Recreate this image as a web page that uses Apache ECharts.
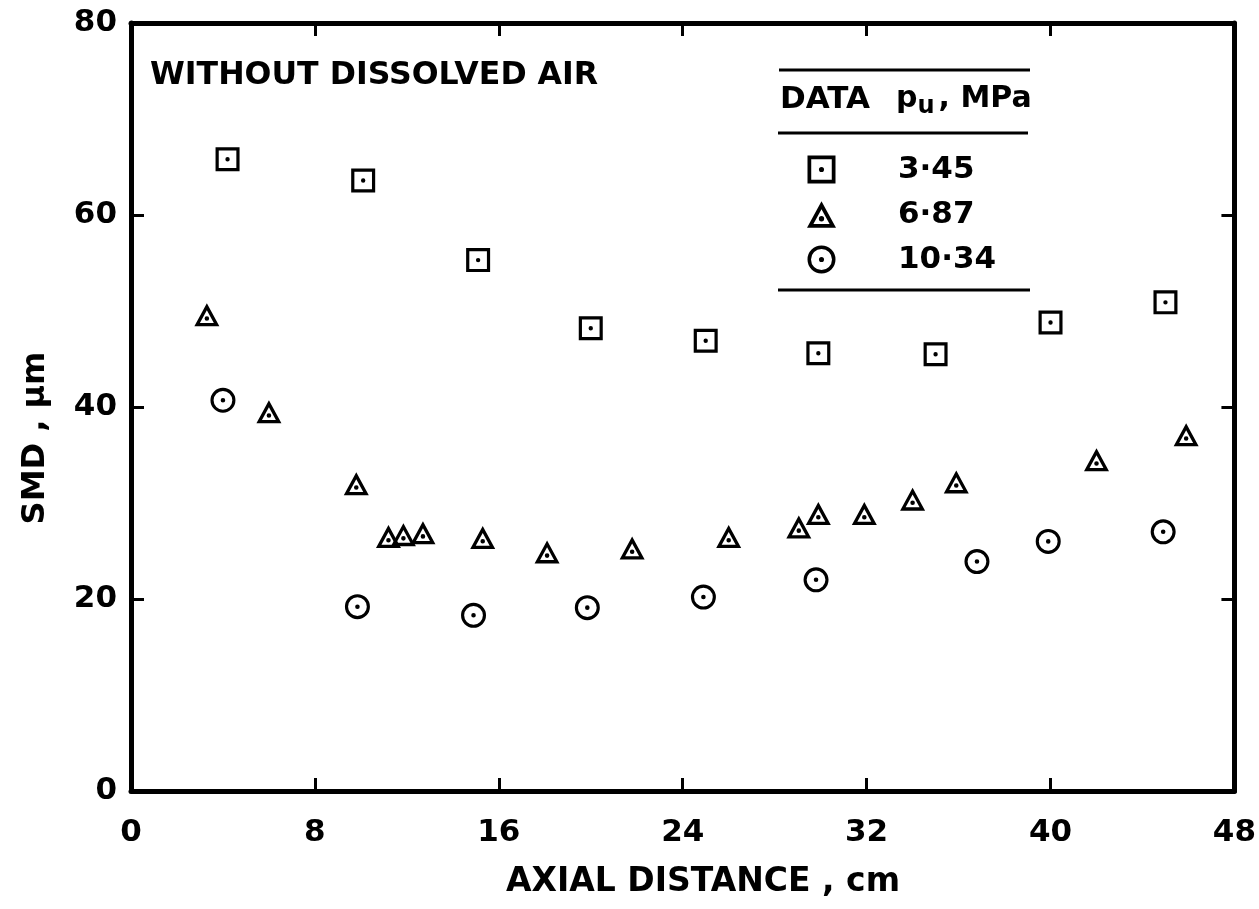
<!DOCTYPE html>
<html>
<head>
<meta charset="utf-8">
<script src="https://cdn.jsdelivr.net/npm/echarts@6/dist/echarts.min.js"></script>
<style>html,body{margin:0;padding:0;background:#fff;}#chart{width:1259px;height:909px;}</style>
</head>
<body>
<div id="chart"></div>
<script>
// ---- data ----
const seriesNames = ['3·45', '6·87', '10·34'];
const xTicks = [0, 8, 16, 24, 32, 40, 48];
const yTicks = [0, 20, 40, 60, 80];

const sqX = [4.2, 10.1, 15.1, 20.0, 25.0, 29.9, 35.0, 40.0, 45.0];
const sqY = [65.8, 63.6, 55.3, 48.2, 46.9, 45.6, 45.5, 48.8, 50.9];

const triX = [3.3, 6.0, 9.8, 11.2, 11.85, 12.7, 15.3, 18.1, 21.8, 26.0, 29.05, 29.9, 31.9, 34.0, 35.9, 42.0, 45.9];
const triY = [49.6, 39.5, 32.0, 26.5, 26.7, 26.9, 26.4, 24.9, 25.3, 26.5, 27.5, 28.9, 28.9, 30.4, 32.2, 34.5, 37.1];

const cirX = [4.0, 9.85, 14.9, 19.85, 24.9, 29.8, 36.8, 39.9, 44.9];
const cirY = [40.7, 19.2, 18.3, 19.1, 20.2, 22.0, 23.9, 26.0, 27.0];

const titleText = 'WITHOUT DISSOLVED AIR';
const xName = 'AXIAL DISTANCE , cm';
const yName = 'SMD , μm';

// ---- symbols (ring + centre dot) ----
const DOT = (cx, cy) => `M${cx-2.2},${cy}A2.2,2.2 0 1,1 ${cx+2.2},${cy}A2.2,2.2 0 1,1 ${cx-2.2},${cy}Z`;
const SQ = 'path://M0,0H24V24H0Z M3.2,3.2V20.8H20.8V3.2Z ' + DOT(12, 12);
const TRI = 'path://M12,0L24,22L0,22Z M12,6.6L5.3,18.8L18.7,18.8Z ' + DOT(12, 14.5);
const CIR = 'path://M0,12A12,12 0 1,1 24,12A12,12 0 1,1 0,12Z M3,12A9,9 0 1,0 21,12A9,9 0 1,0 3,12Z ' + DOT(12, 12);

const zip = (a, b) => a.map((v, i) => [v, b[i]]);
const FONT = 'DejaVu Sans';

const chart = echarts.init(document.getElementById('chart'));
const G = { left: 131, right: 20, top: 23, bottom: 118 };

const axisCommon = {
  axisLine: { show: true, onZero: false, lineStyle: { color: '#000', width: 5 } },
  axisTick: { show: true, inside: true, length: 13, lineStyle: { color: '#000', width: 3 } },
  splitLine: { show: false }
};
const markStyle = { color: '#000', opacity: 1 };

chart.setOption({
  animation: false,
  backgroundColor: '#fff',
  grid: G,
  xAxis: [
    Object.assign({
      type: 'value', min: xTicks[0], max: xTicks[xTicks.length - 1], interval: 8, position: 'bottom',
      axisLabel: { show: true, margin: 26, color: '#000', fontFamily: FONT, fontWeight: 'bold', fontSize: 31,
        formatter: v => xTicks.includes(v) ? String(v) : '' }
    }, axisCommon),
    Object.assign({
      type: 'value', min: xTicks[0], max: xTicks[xTicks.length - 1], interval: 8, position: 'top',
      axisLabel: { show: false }
    }, axisCommon)
  ],
  yAxis: [
    Object.assign({
      type: 'value', min: yTicks[0], max: yTicks[yTicks.length - 1], interval: 20, position: 'left',
      axisLabel: { show: true, margin: 14, color: '#000', fontFamily: FONT, fontWeight: 'bold', fontSize: 31,
        formatter: v => yTicks.includes(v) ? String(v) : '' }
    }, axisCommon),
    Object.assign({
      type: 'value', min: yTicks[0], max: yTicks[yTicks.length - 1], interval: 20, position: 'right',
      axisLabel: { show: false }
    }, axisCommon)
  ],
  legend: {
    orient: 'vertical',
    left: 802, top: 149,
    itemWidth: 29, itemHeight: 28, itemGap: 14,
    selectedMode: false,
    data: seriesNames,
    formatter: name => '{g|}{v|' + name + '}',
    itemStyle: { opacity: 1 },
    textStyle: {
      color: '#000', fontFamily: FONT, fontWeight: 'bold', fontSize: 31,
      rich: { g: { width: 57 }, v: { color: '#000', fontFamily: FONT, fontWeight: 'bold', fontSize: 31 } }
    }
  },
  graphic: [
    { type: 'text', left: 150, top: 60, style: { text: titleText, fill: '#000', font: 'bold 31.6px "DejaVu Sans"' } },
    { type: 'line', shape: { x1: 779, y1: 70, x2: 1030, y2: 70 }, style: { stroke: '#000', lineWidth: 3 } },
    { type: 'line', shape: { x1: 778, y1: 133, x2: 1028, y2: 133 }, style: { stroke: '#000', lineWidth: 3 } },
    { type: 'line', shape: { x1: 778, y1: 290, x2: 1030, y2: 290 }, style: { stroke: '#000', lineWidth: 3 } },
    { type: 'text', left: 780, top: 84, style: { text: 'DATA', fill: '#000', font: 'bold 31px "DejaVu Sans"' } },
    { type: 'text', left: 896, top: 84, style: {
        text: '{p|p}{s|u}{p|, MPa}',
        rich: {
          p: { fill: '#000', font: 'bold 30px "DejaVu Sans"' },
          s: { fill: '#000', font: 'bold 24px "DejaVu Sans"', padding: [16, 4, 0, 0] }
        }
      } },
    { type: 'text', x: 703, y: 882, style: { text: xName, fill: '#000', font: 'bold 33px "DejaVu Sans"', align: 'center', verticalAlign: 'middle' } },
    { type: 'text', x: 36, y: 438, rotation: Math.PI / 2, style: { text: yName, fill: '#000', font: 'bold 32px "DejaVu Sans"', align: 'center', verticalAlign: 'middle' } }
  ],
  series: [
    { name: seriesNames[0], type: 'scatter', symbol: SQ, symbolSize: [24, 24], itemStyle: markStyle, data: zip(sqX, sqY), emphasis: { disabled: true } },
    { name: seriesNames[1], type: 'scatter', symbol: TRI, symbolSize: [25, 23], itemStyle: markStyle, data: zip(triX, triY), emphasis: { disabled: true } },
    { name: seriesNames[2], type: 'scatter', symbol: CIR, symbolSize: [25, 25], itemStyle: markStyle, data: zip(cirX, cirY), emphasis: { disabled: true } }
  ]
});
</script>
</body>
</html>
